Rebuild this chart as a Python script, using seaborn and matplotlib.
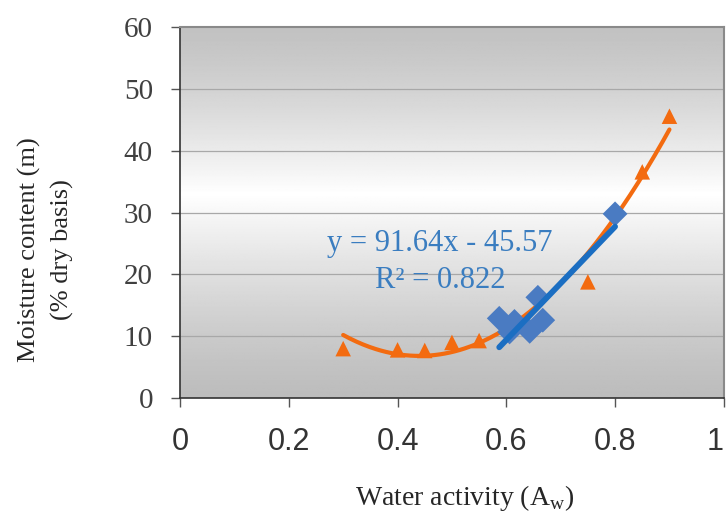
import numpy as np
import pandas as pd
import matplotlib
matplotlib.use("Agg")
import matplotlib.pyplot as plt
import seaborn as sns

# data
aw_blue = [0.587, 0.606, 0.615, 0.643, 0.658, 0.667, 0.800]
mc_blue = [12.9, 10.7, 12.4, 10.8, 16.3, 12.6, 29.8]

aw_orange = [0.30, 0.40, 0.45, 0.50, 0.55, 0.75, 0.85, 0.90]
mc_orange = [8.0, 7.8, 7.7, 9.0, 9.3, 18.8, 36.6, 45.6]

# trendlines
lin_coef = [91.64, -45.57]          # blue linear fit
poly_coef = [173.0, -152.2, 40.3]   # orange 2nd order trendline

x_ticks = [0, 0.2, 0.4, 0.6, 0.8, 1]
x_tick_labels = ["0", "0.2", "0.4", "0.6", "0.8", "1"]
y_ticks = [0, 10, 20, 30, 40, 50, 60]

eq_text = "y = 91.64x - 45.57"
r2_text = "R\u00b2 = 0.822"

blue = "#4a7bc2"
blue_line = "#1b6ec2"
orange = "#f36b10"

sns.set_style("white")
plt.rcParams["font.family"] = ["Liberation Serif", "DejaVu Serif"]

fig = plt.figure(figsize=(7.26, 5.13), dpi=100)
ax = fig.add_axes([0.248, 0.224, 0.749, 0.723])

# gradient background: gray top and bottom, white band around y~33
yy = np.linspace(0, 60, 300)
shade = np.where(yy > 33, 0.76 + 0.24 * (1 - (yy - 33) / 27) ** 1.3,
                 0.74 + 0.26 * (yy / 33) ** 1.3)
grad = np.repeat(shade[:, None], 2, axis=1)
ax.imshow(grad, cmap="gray", vmin=0, vmax=1, origin="lower",
          extent=[0, 1, 0, 60], aspect="auto", zorder=0)

for yv in y_ticks[1:-1]:
    ax.axhline(yv, color="#a8a8a8", lw=0.9, zorder=1)

# orange trendline + points
xo = np.linspace(min(aw_orange), max(aw_orange), 200)
sns.lineplot(x=xo, y=np.polyval(poly_coef, xo), color=orange, lw=3.0,
             ax=ax, zorder=3)
sns.scatterplot(x=aw_orange, y=mc_orange, marker="^", s=125, color=orange,
                edgecolor="none", ax=ax, zorder=4)

# blue points + linear fit
sns.scatterplot(x=aw_blue, y=mc_blue, marker="D", s=160, color=blue,
                edgecolor="none", ax=ax, zorder=5)
xb = np.linspace(min(aw_blue), max(aw_blue), 50)
sns.lineplot(x=xb, y=np.polyval(lin_coef, xb), color=blue_line, lw=4.2,
             ax=ax, zorder=6)

ax.text(0.478, 25.0, eq_text, color="#3a7dc0", fontsize=22,
        ha="center", va="center", zorder=7)
ax.text(0.478, 19.1, r2_text, color="#3a7dc0", fontsize=22,
        ha="center", va="center", zorder=7)

ax.set_xlim(0, 1)
ax.set_ylim(0, 60)
ax.set_xticks(x_ticks)
ax.set_xticklabels(x_tick_labels, family="Liberation Sans", fontsize=22,
                   color="#333333")
ax.set_yticks(y_ticks)
ax.set_yticklabels([str(v) for v in y_ticks], fontsize=21, color="#404040")
ax.tick_params(axis="both", direction="out", length=6.5, width=1,
               color="#555555", bottom=True, left=True)
ax.tick_params(axis="x", pad=14)
ax.tick_params(axis="y", pad=13)
for lab in ax.get_xticklabels()[-1:]:
    lab.set_ha("right")
    lab.set_x(1.0)

for side in ["top", "right"]:
    ax.spines[side].set_color("#8a8a8a")
    ax.spines[side].set_linewidth(1.5)
for side in ["left", "bottom"]:
    ax.spines[side].set_color("#333333")
    ax.spines[side].set_linewidth(1.2)

ax.set_xlabel("Water activity (A$_\\mathregular{w}$)", fontsize=20)
ax.xaxis.set_label_coords(0.523, -0.228)
fig.text(46 / 726, 1 - 250 / 513, "Moisture content (m)\n(% dry basis)",
         rotation=90, ha="center", va="center", multialignment="center",
         fontsize=19, linespacing=1.6)

fig.savefig("out.png", dpi=100)
